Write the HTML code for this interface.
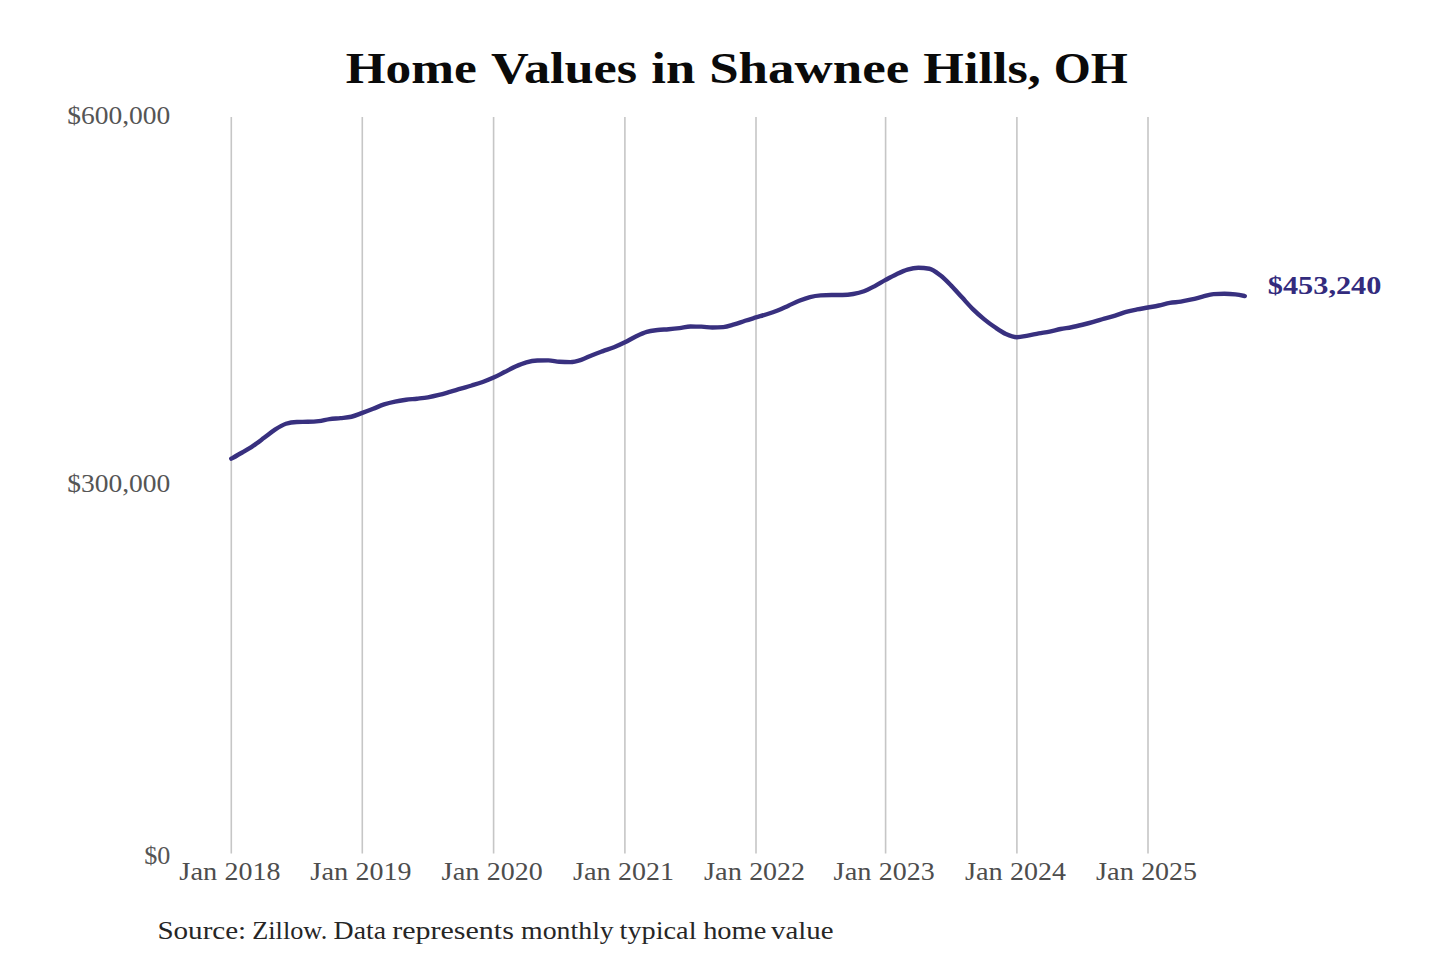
<!DOCTYPE html>
<html><head><meta charset="utf-8"><style>
html,body{margin:0;padding:0;background:#fff;width:1440px;height:960px;overflow:hidden}
svg{display:block}
text{font-family:"Liberation Serif",serif}
</style></head><body>
<svg width="1440" height="960" viewBox="0 0 1440 960">
<rect width="1440" height="960" fill="#fff"/>
<g font-size="43.3" font-weight="bold" fill="#0a0a0a">
<text x="345.71" y="83" textLength="131.13" lengthAdjust="spacingAndGlyphs">Home</text>
<text x="490.99" y="83" textLength="146.16" lengthAdjust="spacingAndGlyphs">Values</text>
<text x="651.29" y="83" textLength="43.85" lengthAdjust="spacingAndGlyphs">in</text>
<text x="709.16" y="83" textLength="199.99" lengthAdjust="spacingAndGlyphs">Shawnee</text>
<text x="923.39" y="83" textLength="117.46" lengthAdjust="spacingAndGlyphs">Hills,</text>
<text x="1053.80" y="83" textLength="74.1" lengthAdjust="spacingAndGlyphs">OH</text>
</g>
<g stroke="#c6c6c6" stroke-width="1.6">
<line x1="231.3" y1="117" x2="231.3" y2="853.5" />
<line x1="362.3" y1="117" x2="362.3" y2="853.5" />
<line x1="493.6" y1="117" x2="493.6" y2="853.5" />
<line x1="624.9" y1="117" x2="624.9" y2="853.5" />
<line x1="756.0" y1="117" x2="756.0" y2="853.5" />
<line x1="885.6" y1="117" x2="885.6" y2="853.5" />
<line x1="1016.9" y1="117" x2="1016.9" y2="853.5" />
<line x1="1148.0" y1="117" x2="1148.0" y2="853.5" />
</g>
<g fill="#555" font-size="25.5">
<text x="67.22" y="124.3" textLength="103.15" lengthAdjust="spacingAndGlyphs">$600,000</text>
<text x="67.22" y="492.2" textLength="103.15" lengthAdjust="spacingAndGlyphs">$300,000</text>
<text x="144.17" y="864" textLength="26.14" lengthAdjust="spacingAndGlyphs">$0</text>
</g>
<g fill="#4d4d4d" font-size="25.5">
<text x="179.34" y="879.6" textLength="37.88" lengthAdjust="spacingAndGlyphs">Jan</text><text x="224.45" y="879.6" textLength="55.94" lengthAdjust="spacingAndGlyphs">2018</text>
<text x="310.34" y="879.6" textLength="37.88" lengthAdjust="spacingAndGlyphs">Jan</text><text x="355.45" y="879.6" textLength="55.94" lengthAdjust="spacingAndGlyphs">2019</text>
<text x="441.64" y="879.6" textLength="37.88" lengthAdjust="spacingAndGlyphs">Jan</text><text x="486.75" y="879.6" textLength="55.94" lengthAdjust="spacingAndGlyphs">2020</text>
<text x="572.94" y="879.6" textLength="37.88" lengthAdjust="spacingAndGlyphs">Jan</text><text x="618.05" y="879.6" textLength="55.94" lengthAdjust="spacingAndGlyphs">2021</text>
<text x="704.04" y="879.6" textLength="37.88" lengthAdjust="spacingAndGlyphs">Jan</text><text x="749.15" y="879.6" textLength="55.94" lengthAdjust="spacingAndGlyphs">2022</text>
<text x="833.64" y="879.6" textLength="37.88" lengthAdjust="spacingAndGlyphs">Jan</text><text x="878.75" y="879.6" textLength="55.94" lengthAdjust="spacingAndGlyphs">2023</text>
<text x="964.94" y="879.6" textLength="37.88" lengthAdjust="spacingAndGlyphs">Jan</text><text x="1010.05" y="879.6" textLength="55.94" lengthAdjust="spacingAndGlyphs">2024</text>
<text x="1096.04" y="879.6" textLength="37.88" lengthAdjust="spacingAndGlyphs">Jan</text><text x="1141.15" y="879.6" textLength="55.94" lengthAdjust="spacingAndGlyphs">2025</text>
</g>
<path d="M231.30,458.70C234.93,456.67,238.57,454.65,242.20,452.50C245.83,450.35,249.47,448.25,253.10,445.82C256.77,443.37,260.43,440.55,264.10,437.85C267.73,435.17,271.37,432.02,275.00,429.67C278.63,427.33,282.27,425.01,285.90,423.78C289.53,422.55,293.17,422.01,296.80,421.93C300.43,421.85,304.07,421.89,307.70,421.82C311.37,421.74,315.03,421.59,318.70,421.13C322.33,420.68,325.97,419.56,329.60,419.06C333.23,418.55,336.87,418.51,340.50,418.13C344.13,417.74,347.77,417.63,351.40,416.76C355.03,415.89,358.67,414.23,362.30,412.90C365.93,411.57,369.57,410.17,373.20,408.75C376.83,407.33,380.47,405.60,384.10,404.40C387.77,403.19,391.43,402.32,395.10,401.55C398.77,400.78,402.43,400.27,406.10,399.79C409.73,399.32,413.37,399.11,417.00,398.70C420.63,398.28,424.27,397.94,427.90,397.33C431.57,396.70,435.23,395.88,438.90,394.97C442.53,394.08,446.17,392.98,449.80,391.94C453.47,390.88,457.13,389.73,460.80,388.65C464.43,387.58,468.07,386.59,471.70,385.49C475.37,384.37,479.03,383.30,482.70,381.98C486.33,380.67,489.97,379.25,493.60,377.60C497.23,375.95,500.87,373.93,504.50,372.08C508.17,370.22,511.83,368.10,515.50,366.47C519.13,364.85,522.77,363.29,526.40,362.31C530.07,361.32,533.73,360.69,537.40,360.57C541.03,360.46,544.67,360.40,548.30,360.40C551.97,360.40,555.63,361.52,559.30,361.75C562.97,361.98,566.63,362.10,570.30,362.10C573.93,362.10,577.57,360.95,581.20,359.80C584.83,358.64,588.47,356.62,592.10,355.17C595.73,353.72,599.37,352.43,603.00,351.11C606.67,349.78,610.33,348.70,614.00,347.22C617.63,345.76,621.27,344.11,624.90,342.31C628.53,340.52,632.17,338.20,635.80,336.45C639.47,334.69,643.13,332.85,646.80,331.78C650.43,330.71,654.07,330.45,657.70,330.02C661.33,329.60,664.97,329.55,668.60,329.23C672.23,328.92,675.87,328.56,679.50,328.12C683.17,327.68,686.83,326.57,690.50,326.57C694.13,326.57,697.77,326.60,701.40,326.66C705.03,326.72,708.67,327.47,712.30,327.47C715.93,327.47,719.57,327.36,723.20,327.16C726.87,326.95,730.53,325.55,734.20,324.48C737.83,323.42,741.47,321.94,745.10,320.76C748.73,319.59,752.37,318.54,756.00,317.45C759.60,316.37,763.20,315.43,766.80,314.27C770.40,313.10,774.00,311.90,777.60,310.47C781.20,309.04,784.80,307.28,788.40,305.67C792.00,304.06,795.60,302.22,799.20,300.79C802.80,299.35,806.40,297.97,810.00,297.06C813.60,296.16,817.20,295.63,820.80,295.36C824.40,295.09,828.00,294.95,831.60,294.95C835.20,294.95,838.80,294.95,842.40,294.95C846.00,294.95,849.60,294.63,853.20,294.02C856.80,293.40,860.40,292.58,864.00,291.26C867.60,289.93,871.20,287.97,874.80,286.08C878.40,284.19,882.00,281.89,885.60,279.92C889.23,277.93,892.87,275.91,896.50,274.20C900.17,272.47,903.83,270.68,907.50,269.60C911.13,268.53,914.77,267.75,918.40,267.75C922.07,267.75,925.73,268.08,929.40,268.75C933.03,269.41,936.67,272.49,940.30,275.30C943.93,278.11,947.57,281.90,951.20,285.60C954.87,289.33,958.53,293.62,962.20,297.60C965.83,301.55,969.47,305.82,973.10,309.40C976.73,312.98,980.37,316.13,984.00,319.10C987.67,322.10,991.33,324.79,995.00,327.29C998.63,329.76,1002.27,332.35,1005.90,334.01C1009.57,335.68,1013.23,337.24,1016.90,337.24C1020.53,337.24,1024.17,336.24,1027.80,335.61C1031.47,334.97,1035.13,334.10,1038.80,333.43C1042.43,332.76,1046.07,332.33,1049.70,331.59C1053.33,330.85,1056.97,329.72,1060.60,329.00C1064.23,328.28,1067.87,327.96,1071.50,327.25C1075.17,326.54,1078.83,325.65,1082.50,324.75C1086.13,323.86,1089.77,322.93,1093.40,321.90C1097.03,320.88,1100.67,319.65,1104.30,318.60C1107.93,317.55,1111.57,316.72,1115.20,315.60C1118.87,314.47,1122.53,312.89,1126.20,311.85C1129.83,310.82,1133.47,310.12,1137.10,309.40C1140.73,308.67,1144.37,308.15,1148.00,307.50C1151.63,306.85,1155.27,306.27,1158.90,305.50C1162.53,304.73,1166.17,303.55,1169.80,302.90C1173.47,302.25,1177.13,302.19,1180.80,301.60C1184.43,301.02,1188.07,300.22,1191.70,299.40C1195.33,298.58,1198.97,297.58,1202.60,296.70C1206.23,295.82,1209.87,294.33,1213.50,294.10C1217.13,293.87,1220.77,293.75,1224.40,293.75C1228.07,293.75,1231.73,293.97,1235.40,294.40C1238.53,294.77,1241.67,295.42,1244.80,296.06" fill="none" stroke="#38307f" stroke-width="4.4" stroke-linecap="round" stroke-linejoin="round"/>
<g font-size="25" font-weight="bold" fill="#332b7d">
<text x="1267.79" y="294.2" textLength="113.62" lengthAdjust="spacingAndGlyphs">$453,240</text>
</g>
<g font-size="25.3" fill="#262626">
<text x="157.40" y="939.2" textLength="88.82" lengthAdjust="spacingAndGlyphs">Source:</text>
<text x="252.26" y="939.2" textLength="74.96" lengthAdjust="spacingAndGlyphs">Zillow.</text>
<text x="333.60" y="939.2" textLength="52.54" lengthAdjust="spacingAndGlyphs">Data</text>
<text x="392.21" y="939.2" textLength="121.63" lengthAdjust="spacingAndGlyphs">represents</text>
<text x="521.10" y="939.2" textLength="92.66" lengthAdjust="spacingAndGlyphs">monthly</text>
<text x="619.58" y="939.2" textLength="76.96" lengthAdjust="spacingAndGlyphs">typical</text>
<text x="703.18" y="939.2" textLength="63.07" lengthAdjust="spacingAndGlyphs">home</text>
<text x="771.00" y="939.2" textLength="62.49" lengthAdjust="spacingAndGlyphs">value</text>
</g>
</svg>
</body></html>
